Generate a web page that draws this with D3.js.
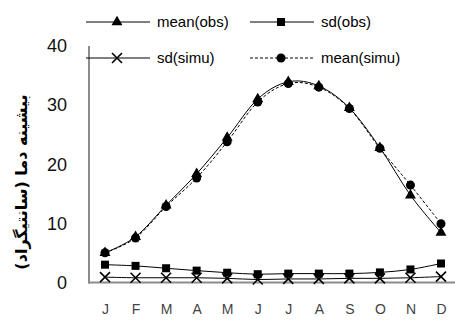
<!DOCTYPE html>
<html><head><meta charset="utf-8">
<script src="https://cdn.jsdelivr.net/npm/d3@7"></script>
<style>body{margin:0;background:#fff}svg{display:block}</style>
</head><body>
<svg id="c" width="455" height="320"></svg>
<script>
const months = ["J","F","M","A","M","J","J","A","S","O","N","D"];
const meanObs  = [5.0, 7.7, 13.0, 18.3, 24.4, 30.9, 33.8, 33.1, 29.4, 22.7, 14.7, 8.4];
const meanSimu = [5.0, 7.5, 12.8, 17.6, 23.7, 30.4, 33.5, 32.9, 29.3, 22.6, 16.4, 9.9];
const sdObs    = [3.0, 2.8, 2.4, 2.0, 1.65, 1.4, 1.5, 1.5, 1.5, 1.7, 2.2, 3.2];
const sdSimu   = [0.9, 0.8, 0.8, 0.8, 0.7, 0.5, 0.6, 0.6, 0.7, 0.7, 0.8, 1.0];
const yTicks = [0, 10, 20, 30, 40];
const yLabel = "بیشینه دما (سانتیگراد)";

const svg = d3.select("#c");
const x = d3.scalePoint().domain(d3.range(12)).range([105, 441]);
const y = d3.scaleLinear().domain([0, 40]).range([282.5, 45]);

// axes lines
svg.append("line").attr("x1",89).attr("x2",89).attr("y1",46).attr("y2",283.5)
  .attr("stroke","#8c8c8c").attr("stroke-width",2);
svg.append("line").attr("x1",88).attr("x2",455).attr("y1",282.5).attr("y2",282.5)
  .attr("stroke","#8c8c8c").attr("stroke-width",2);

// y tick labels
const yAxis = d3.axisLeft(y).tickValues(yTicks).tickSize(0).tickPadding(0);
const ga = svg.append("g").attr("transform","translate(67,0)").call(yAxis);
ga.select(".domain").remove();
ga.selectAll("text").attr("font-family","Liberation Sans, Arial, sans-serif")
  .attr("font-size",18).attr("fill","#111").attr("dy","0.36em");

// x labels
const xAxis = d3.axisBottom(x).tickFormat(i => months[i]).tickSize(0).tickPadding(0);
const gx = svg.append("g").attr("transform","translate(0,304)").call(xAxis);
gx.select(".domain").remove();
gx.selectAll("text").attr("font-family","Liberation Sans, Arial, sans-serif")
  .attr("font-size",14).attr("fill","#444").attr("dy","0.71em");

// y label
svg.append("text").attr("transform","translate(27,182) rotate(-90)")
  .attr("text-anchor","middle").attr("font-family","DejaVu Sans, Noto Sans, sans-serif")
  .attr("font-weight","bold").attr("font-size",16).attr("direction","rtl")
  .text(yLabel);

const line = d3.line().x((d,i)=>x(i)).y(d=>y(d)).curve(d3.curveCatmullRom.alpha(0));

const tri = d3.symbol().type(d3.symbolTriangle).size(52);
const sq = d3.symbol().type(d3.symbolSquare).size(64);
const circ = d3.symbol().type(d3.symbolCircle).size(64);

function xMark(g, cx, cy, r){
  g.append("path").attr("d",`M${cx-r},${cy-r}L${cx+r},${cy+r}M${cx-r},${cy+r}L${cx+r},${cy-r}`)
    .attr("stroke","#000").attr("stroke-width",1.6).attr("fill","none");
}

const series = [
  {data: sdSimu, dash: null, mark: "x"},
  {data: sdObs, dash: null, mark: sq},
  {data: meanSimu, dash: "3,2", mark: circ},
  {data: meanObs, dash: null, mark: tri}
];
const plot = svg.append("g");
series.forEach(s => {
  plot.append("path").attr("d", line(s.data)).attr("fill","none")
    .attr("stroke","#000").attr("stroke-width",1)
    .attr("stroke-dasharray", s.dash);
});
series.forEach(s => {
  s.data.forEach((v,i) => {
    if (s.mark === "x") xMark(plot, x(i), y(v), 5);
    else plot.append("path").attr("d", s.mark()).attr("transform",`translate(${x(i)},${y(v)})`).attr("fill","#000");
  });
});

// legend
const legend = [
  {label:"mean(obs)", lx:86, ly:22, dash:null, mark:tri},
  {label:"sd(obs)", lx:250, ly:22, dash:null, mark:sq},
  {label:"sd(simu)", lx:86, ly:58, dash:null, mark:"x"},
  {label:"mean(simu)", lx:250, ly:58, dash:"3,2", mark:circ}
];
const lg = svg.append("g");
legend.forEach(l => {
  lg.append("line").attr("x1",l.lx).attr("x2",l.lx+64).attr("y1",l.ly).attr("y2",l.ly)
    .attr("stroke","#000").attr("stroke-width",1).attr("stroke-dasharray",l.dash);
  const cx = l.lx+31;
  if (l.mark === "x") xMark(lg, cx, l.ly, 5);
  else lg.append("path").attr("d", l.mark()).attr("transform",`translate(${cx},${l.ly})`).attr("fill","#000");
  lg.append("text").attr("x", l.lx+71).attr("y", l.ly).attr("dy","0.35em")
    .attr("font-family","Liberation Sans, Arial, sans-serif").attr("font-size",15).text(l.label);
});
</script>
</body></html>
